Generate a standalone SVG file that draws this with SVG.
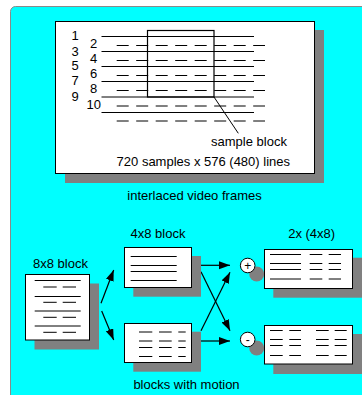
<svg xmlns="http://www.w3.org/2000/svg" width="362" height="395" viewBox="0 0 362 395">
<defs>
<style>
text{font-family:"Liberation Sans",Arial,Helvetica,sans-serif;font-size:13px;fill:#000}
.mid{text-anchor:middle}
.shadow{fill:#808080;stroke:none}
.box{fill:#fff;stroke:#000;stroke-width:1}
.ln{stroke:#000;stroke-width:1;fill:none}
.dash{stroke:#000;stroke-width:1;fill:none;stroke-dasharray:12 7.5}
.arrow{stroke:#000;stroke-width:1.2;fill:none;marker-end:url(#ah)}
.op{fill:#fff;stroke:#000;stroke-width:1}
.sign{font-size:12px;text-anchor:middle}
</style>
<marker id="ah" markerUnits="userSpaceOnUse" markerWidth="12" markerHeight="10" refX="11" refY="4" orient="auto">
<path d="M0,0 L11,4 L0,8 Z" fill="#000"/>
</marker>
</defs>
<rect x="10.5" y="6.5" width="360" height="400" rx="5" ry="5" fill="#00ffff" stroke="#8a8a8a" stroke-width="1"/>

<g id="video-frames">
<rect class="shadow" x="65" y="30" width="259" height="153"/>
<rect class="box" x="55.5" y="21.5" width="259" height="152"/>
<g class="ln">
<line x1="101.5" y1="36.5" x2="254" y2="36.5"/>
<line x1="101.5" y1="51.5" x2="254" y2="51.5"/>
<line x1="101.5" y1="66.5" x2="254" y2="66.5"/>
<line x1="101.5" y1="81.5" x2="254" y2="81.5"/>
<line x1="101.5" y1="97" x2="254" y2="97"/>
<line x1="101.5" y1="112.5" x2="254" y2="112.5"/>
</g>
<g class="dash">
<line x1="116.7" y1="45.5" x2="265" y2="45.5"/>
<line x1="116.7" y1="60.5" x2="265" y2="60.5"/>
<line x1="116.7" y1="75.5" x2="265" y2="75.5"/>
<line x1="116.7" y1="90.5" x2="265" y2="90.5"/>
<line x1="116.7" y1="106" x2="265" y2="106"/>
<line x1="116.7" y1="121" x2="265" y2="121"/>
</g>
<text x="71.5" y="40">1</text>
<text x="71.5" y="55.5">3</text>
<text x="71.5" y="70">5</text>
<text x="71.5" y="84.5">7</text>
<text x="71.5" y="100.5">9</text>
<text x="90" y="48.3">2</text>
<text x="90" y="63.3">4</text>
<text x="90" y="78.3">6</text>
<text x="90" y="93.3">8</text>
<text x="86.5" y="109.3">10</text>
<rect x="147.5" y="30.5" width="66.5" height="66.5" fill="none" stroke="#000" stroke-width="1.2"/>
<line class="ln" x1="214" y1="97" x2="238.3" y2="133.3"/>
<text class="mid" x="249" y="146">sample block</text>
<text class="mid" x="203.3" y="166.3">720 samples x 576 (480) lines</text>
</g>
<text class="mid" x="194.5" y="200">interlaced video frames</text>

<g id="connectors">
<line class="arrow" x1="101" y1="303.3" x2="113.7" y2="270"/>
<line class="arrow" x1="101.7" y1="311" x2="113.7" y2="340"/>
<line class="arrow" x1="201" y1="265.3" x2="230" y2="265.3"/>
<line class="arrow" x1="201" y1="271.7" x2="230" y2="330.7"/>
<line class="arrow" x1="201" y1="330.7" x2="230" y2="272.3"/>
<line class="arrow" x1="201" y1="341" x2="230" y2="341"/>
</g>

<g id="block-8x8">
<text class="mid" x="60.5" y="267.5">8x8 block</text>
<rect class="shadow" x="34.5" y="283.5" width="64.5" height="66"/>
<rect class="box" x="25.5" y="274.5" width="64" height="65.5"/>
<g class="ln">
<line x1="34.7" y1="280.5" x2="80.7" y2="280.5"/>
<line x1="34.7" y1="296.5" x2="80.7" y2="296.5"/>
<line x1="34.7" y1="311" x2="80.7" y2="311"/>
<line x1="34.7" y1="326" x2="80.7" y2="326"/>
<path d="M43.3,287H56.7M62.7,287H76M43.3,302.3H56.7M62.7,302.3H76M43.3,317.3H56.7M62.7,317.3H76M43.3,332.3H56.7M62.7,332.3H76"/>
</g>
</g>

<g id="block-4x8-top">
<text class="mid" x="158" y="238.3">4x8 block</text>
<rect class="shadow" x="133.3" y="256" width="67.7" height="40.7"/>
<rect class="box" x="124.5" y="247.5" width="67" height="40"/>
<path class="ln" d="M130.7,256.5H176.7M130.7,265.5H176.7M130.7,271.5H176.7M130.7,280.5H176.7"/>
</g>

<g id="block-4x8-bottom">
<rect class="shadow" x="133.3" y="331.7" width="67.7" height="40"/>
<rect class="box" x="124.5" y="323.5" width="67" height="39"/>
<path class="ln" d="M139,332H152.3M159,332H171.7M178.3,332H185.7M139,341H152.3M159,341H171.7M178.3,341H185.7M139,347.5H152.3M159,347.5H171.7M178.3,347.5H185.7M139,356.5H152.3M159,356.5H171.7M178.3,356.5H185.7"/>
</g>
<text class="mid" x="186.5" y="389.3">blocks with motion</text>

<g id="op-plus">
<circle class="shadow" cx="256.7" cy="274" r="7.5"/>
<circle class="op" cx="247.7" cy="265.5" r="7.3"/>
<text class="sign" x="247.7" y="269.7">+</text>
</g>
<g id="op-minus">
<circle class="shadow" cx="256.7" cy="348" r="7.5"/>
<circle class="op" cx="247.7" cy="339.5" r="7.3"/>
<text class="sign" x="247.7" y="343.5">-</text>
</g>

<g id="out-sum">
<text class="mid" x="311.7" y="238.3">2x (4x8)</text>
<rect class="shadow" x="273.3" y="257.7" width="95" height="40"/>
<rect class="box" x="264.5" y="249.5" width="88" height="39"/>
<path class="ln" d="M270,254.5H301M270,263.5H301M270,269.5H301M270,279H301M309.7,254.5H322.3M328.7,254.5H341M309.7,263.5H322.3M328.7,263.5H341M309.7,269.5H322.3M328.7,269.5H341M309.7,279H322.3M328.7,279H341"/>
</g>

<g id="out-diff">
<rect class="shadow" x="273.3" y="334" width="95" height="40"/>
<rect class="box" x="264.5" y="325.5" width="88" height="38.5"/>
<path class="ln" d="M270,330.5H282.7M289.3,330.5H301M316,330.5H328.7M334.7,330.5H346.7M270,339.5H282.7M289.3,339.5H301M316,339.5H328.7M334.7,339.5H346.7M270,345.5H282.7M289.3,345.5H301M316,345.5H328.7M334.7,345.5H346.7M270,355.5H282.7M289.3,355.5H301M316,355.5H328.7M334.7,355.5H346.7"/>
</g>
</svg>
